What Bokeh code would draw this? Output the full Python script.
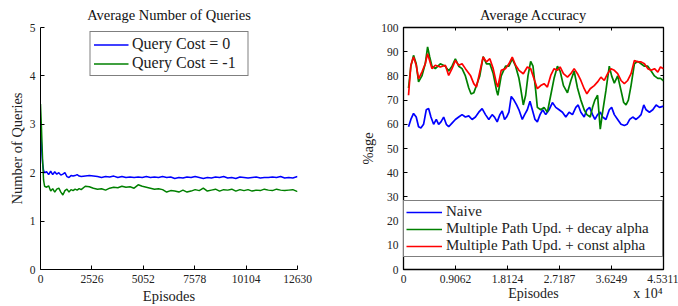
from bokeh.plotting import figure
from bokeh.layouts import row
from bokeh.models import Range1d, FixedTicker, Legend, LegendItem, LinearAxis
from bokeh.embed import file_html
from bokeh.resources import INLINE

FONT = "Liberation Serif"

# ---------------- Left chart data ----------------
q_ticks = [0, 2526, 5052, 7578, 10104, 12630]
q_yticks = [0, 1, 2, 3, 4, 5]
q_ep = [0, 50, 100, 150, 200, 300, 400, 500, 600, 700, 800, 900, 1000, 1100, 1200, 1300, 1400, 1500,
        1600, 1700, 1800, 1900, 2000, 2200, 2400, 2600, 2800, 3000, 3200, 3400, 3600, 3800, 4000,
        4200, 4400, 4600, 4800, 5000, 5200, 5400, 5600, 5800, 6000, 6200, 6400, 6600, 6800, 7000,
        7200, 7400, 7600, 7800, 8000, 8200, 8400, 8600, 8800, 9000, 9200, 9400, 9600, 9800, 10000,
        10200, 10400, 10600, 10800, 11000, 11200, 11400, 11600, 11800, 12000, 12200, 12400, 12630]
q_cost0 = [2.95, 2.55, 2.2, 2.05, 2.0, 2.02, 1.96, 2.03, 1.96, 2.02, 1.97, 2.0, 1.95, 1.97, 2.0, 1.92,
           1.9, 1.94, 1.93, 1.94, 1.96, 1.93, 1.92, 1.93, 1.94, 1.93, 1.92, 1.9, 1.92, 1.91, 1.93,
           1.9, 1.92, 1.9, 1.91, 1.9, 1.91, 1.9, 1.92, 1.9, 1.91, 1.9, 1.92, 1.9, 1.91, 1.88, 1.9,
           1.89, 1.91, 1.9, 1.92, 1.9, 1.88, 1.9, 1.89, 1.91, 1.9, 1.92, 1.89, 1.9, 1.88, 1.91, 1.9,
           1.89, 1.9, 1.91, 1.89, 1.9, 1.9, 1.91, 1.9, 1.92, 1.89, 1.9, 1.89, 1.92]
q_cost1 = [3.42, 2.9, 2.3, 1.85, 1.72, 1.7, 1.73, 1.62, 1.67, 1.6, 1.66, 1.68, 1.6, 1.54, 1.63, 1.66,
           1.6, 1.65, 1.63, 1.66, 1.64, 1.67, 1.65, 1.72, 1.71, 1.68, 1.66, 1.67, 1.64, 1.68, 1.7,
           1.69, 1.72, 1.7, 1.71, 1.68, 1.75, 1.72, 1.7, 1.68, 1.66, 1.67, 1.65, 1.6, 1.63, 1.62,
           1.6, 1.64, 1.6, 1.62, 1.65, 1.63, 1.68, 1.62, 1.64, 1.66, 1.62, 1.65, 1.64, 1.66, 1.62,
           1.65, 1.63, 1.65, 1.62, 1.64, 1.63, 1.66, 1.64, 1.63, 1.66, 1.64, 1.63, 1.64, 1.65, 1.61]

# ---------------- Right chart data ----------------
acc_ticks = [0, 9062.2, 18124.4, 27186.6, 36248.8, 45311]
acc_tick_labels = ["0", "0.9062", "1.8124", "2.7187", "3.6249", "4.5311"]
acc_yticks = [0, 10, 20, 30, 40, 50, 60, 70, 80, 90, 100]
acc_xlabel = "Episodes"
acc_xlabel_pos = 22655.5
acc_multiplier = "x 10\u2074"
acc_multiplier_pos = 42600

naive_ep = [875, 1283, 1749, 2216, 2624, 3032, 3499, 3965, 4374, 4782,
            5248, 5715, 6123, 6531, 6998, 7464, 7873, 8456, 9039, 9622,
            10205, 10788, 11372, 11955, 12538, 13121, 13704, 14287, 14871, 15454,
            15862, 16328, 16795, 17203, 17611, 17961, 18370, 18778, 19244, 19711,
            20119, 20702, 21110, 21577, 22043, 22452, 22918, 23326, 23793, 24259,
            24784, 25367, 25951, 26534, 27117, 27700, 28283, 28866, 29450, 30033,
            30441, 30907, 31491, 31957, 32424, 32948, 33357, 33823, 34290, 34698,
            35281, 35864, 36273, 36739, 37322, 37905, 38489, 38955, 39422, 39946,
            40530, 40996, 41404, 41871, 42279, 42862, 43445, 44029, 44612, 45311]
naive_acc = [59, 62, 64.5, 63, 59, 58.5, 60, 66, 66.5, 63,
             60, 62, 60, 61, 63, 60, 59, 60.5, 62, 63,
             64, 63, 63.5, 62, 63, 65, 66.5, 64, 62, 64,
             63, 61, 64, 65.5, 62, 63, 65, 71.5, 70, 68,
             66, 62, 64, 66, 69.5, 66, 62, 61, 64, 66,
             64, 66, 69, 67, 66, 65, 63, 65, 64, 67,
             68, 65, 63, 66, 67, 64, 62, 64, 65, 63,
             62, 66, 67, 64, 62, 60, 59.5, 60, 62, 63,
             62, 63, 64, 68, 66, 65, 66, 68, 67, 67.5]

decay_ep = [875, 1283, 1749, 2216, 2624, 3207, 3791, 4199, 4549, 4957,
            5540, 6415, 7290, 7873, 8456, 9039, 9622, 10205, 10788, 11372,
            11780, 12246, 12713, 13296, 13879, 14462, 15046, 15629, 16212, 16445,
            17028, 17786, 18370, 18953, 19536, 20119, 20411, 20877, 21285, 21694,
            22160, 22568, 23035, 23326, 23910, 24493, 25076, 25659, 26242, 26825,
            27292, 27875, 28575, 29158, 29741, 30324, 30907, 31491, 31957, 32540,
            32948, 33357, 33823, 34290, 34698, 35281, 35864, 36273, 36739, 37322,
            37905, 38372, 38780, 39188, 39655, 40238, 40821, 41404, 41988, 42571,
            43154, 43737, 44320, 44787, 45311]
decay_acc = [75, 84, 88.5, 85, 77.5, 80, 85, 92, 88, 84,
             83, 85, 84, 82, 84, 87, 84, 83, 80, 75,
             72.5, 73, 76, 80, 88, 85, 85, 81, 74, 72,
             80, 84, 84, 87, 84, 79, 75, 68, 72, 80,
             86, 84, 74, 67, 66, 67, 65, 72, 79, 84,
             82, 76, 73, 78, 82, 75, 70, 66, 64, 63,
             67, 70, 72, 58, 65, 74, 84, 80, 77, 80,
             74, 69, 68, 70, 76, 85, 86, 85, 84, 84,
             82, 80, 79, 79, 78]

const_ep = [875, 1283, 1749, 2216, 2624, 3207, 3791, 4199, 4549, 4957,
            5540, 6415, 7290, 7873, 8456, 9039, 9622, 10205, 10788, 11663,
            12246, 12713, 13296, 13879, 14462, 15046, 15629, 16212, 16445, 17028,
            17786, 18370, 18953, 19536, 20119, 20877, 21577, 22160, 22743, 23326,
            23910, 24493, 25076, 25659, 26242, 26825, 27292, 27875, 28575, 29158,
            29741, 30324, 30907, 31491, 31957, 32540, 33240, 33823, 34406, 34990,
            35573, 36156, 36739, 37322, 37905, 38489, 39072, 39655, 40238, 40821,
            41404, 41988, 42571, 43154, 43737, 44320, 44787, 45311]
const_acc = [72, 84.4, 87.8, 84.4, 78.8, 81.6, 85, 89.2, 86.4, 83,
             84.4, 83.7, 84.4, 80.2, 83, 86.4, 84.4, 85, 83, 80.2,
             76.8, 75.4, 81.6, 87.8, 85.8, 87.1, 83, 76.8, 75.4, 82.3,
             83, 85, 87.8, 84.4, 82.3, 80.9, 83.7, 83, 78.8, 74.7,
             76, 76.8, 75.4, 80.2, 83, 82.3, 83.7, 80.9, 79.5, 80.9,
             83, 80.9, 78.1, 74.7, 72.6, 74.7, 76, 77.5, 79.5, 78.1,
             80.9, 83, 82.3, 80.9, 78.1, 76.8, 78.1, 80.9, 86.4, 85.8,
             85.8, 85, 83, 82.3, 83, 81.6, 83.7, 83]

BLUE, GREEN, RED = "#0000ff", "#008000", "#ff0000"
TXT = "#222222"


def style_axis(ax, label_size="11.5px"):
    ax.axis_line_color = "black"
    ax.axis_line_width = 1
    ax.major_tick_in = 4
    ax.major_tick_out = 0
    ax.minor_tick_in = 0
    ax.minor_tick_out = 0
    ax.major_tick_line_color = "black"
    ax.major_label_text_font = FONT
    ax.major_label_text_font_size = label_size
    ax.major_label_text_color = TXT
    ax.axis_label_text_font = FONT
    ax.axis_label_text_font_size = "14.5px"
    ax.axis_label_text_font_style = "normal"
    ax.axis_label_text_color = TXT
    ax.major_label_standoff = 5
    ax.axis_label_standoff = 2


def style_title(p):
    p.title.text_font = FONT
    p.title.text_font_size = "14.5px"
    p.title.text_font_style = "normal"
    p.title.align = "center"
    p.title.text_color = "#111111"
    p.title.standoff = 9


def style_legend(leg, fs, lh):
    leg.label_text_font = FONT
    leg.label_text_font_size = fs
    leg.label_text_color = TXT
    leg.glyph_height = lh
    leg.label_height = lh
    leg.border_line_color = "black"
    leg.background_fill_alpha = 1


# ---------------- Left figure ----------------
p1 = figure(width=340, height=306, output_backend="svg", toolbar_location=None,
            title="Average Number of Queries",
            x_range=Range1d(0, 12630), y_range=Range1d(0, 5),
            min_border_left=40, min_border_right=43, min_border_top=0, min_border_bottom=36)
style_title(p1)
p1.outline_line_color = None
p1.grid.visible = False
p1.xaxis.ticker = FixedTicker(ticks=q_ticks)
p1.yaxis.ticker = FixedTicker(ticks=q_yticks)
p1.xaxis.axis_label = "Episodes"
p1.yaxis.axis_label = "Number of Queries"
style_axis(p1.xaxis[0])
style_axis(p1.yaxis[0])

l0 = p1.line(q_ep, q_cost0, line_color=BLUE, line_width=1.5)
l1 = p1.line(q_ep, q_cost1, line_color=GREEN, line_width=1.5)
leg1 = Legend(items=[LegendItem(label="Query Cost = 0", renderers=[l0]),
                     LegendItem(label="Query Cost = -1", renderers=[l1])],
              location="top_center")
style_legend(leg1, "16px", 17)
leg1.margin = 4
leg1.padding = 3
leg1.spacing = 1
leg1.glyph_width = 35
leg1.label_standoff = 4
leg1.label_width = 112
leg1.border_line_width = 1.8
p1.add_layout(leg1)

# ---------------- Right figure ----------------
p2 = figure(width=338, height=306, output_backend="svg", toolbar_location=None,
            title="Average Accuracy",
            x_range=Range1d(0, 45311), y_range=Range1d(0, 100),
            min_border_left=63, min_border_right=15, min_border_top=0, min_border_bottom=36)
style_title(p2)
p2.outline_line_color = "black"
p2.outline_line_width = 1.3
p2.grid.visible = False
p2.xaxis.ticker = FixedTicker(ticks=acc_ticks)
p2.xaxis.major_label_overrides = {t: s for t, s in zip(acc_ticks, acc_tick_labels)}
p2.yaxis.ticker = FixedTicker(ticks=acc_yticks)
p2.yaxis.axis_label = "%age"
style_axis(p2.xaxis[0])
style_axis(p2.yaxis[0])

# second row below the tick labels: axis title and the exponent note
ax_note = LinearAxis(ticker=FixedTicker(ticks=[acc_xlabel_pos, acc_multiplier_pos]),
                     major_label_overrides={acc_xlabel_pos: acc_xlabel,
                                            acc_multiplier_pos: acc_multiplier})
style_axis(ax_note, label_size="14px")
ax_note.axis_line_color = None
ax_note.major_tick_line_color = None
ax_note.major_label_standoff = 0
p2.add_layout(ax_note, "below")

# ticks only (no labels) on the top and right of the box
for side in ("right", "above"):
    tk = acc_yticks if side == "right" else acc_ticks
    ax = LinearAxis(ticker=FixedTicker(ticks=tk))
    style_axis(ax, label_size="1px")
    ax.major_label_text_color = None
    ax.major_label_standoff = 0
    ax.axis_line_color = None
    ax.major_tick_in = 3
    p2.add_layout(ax, side)

r0 = p2.line(naive_ep, naive_acc, line_color=BLUE, line_width=1.7)
r1 = p2.line(decay_ep, decay_acc, line_color=GREEN, line_width=1.7)
r2 = p2.line(const_ep, const_acc, line_color=RED, line_width=1.7)

leg2 = Legend(items=[LegendItem(label="Naive", renderers=[r0]),
                     LegendItem(label="Multiple Path Upd. + decay alpha", renderers=[r1]),
                     LegendItem(label="Multiple Path Upd. + const alpha", renderers=[r2])],
              location=(0, 12))
style_legend(leg2, "15px", 16)
leg2.margin = 0
leg2.padding = 2
leg2.spacing = 0
leg2.glyph_width = 36
leg2.label_standoff = 4
leg2.label_width = 214
leg2.border_line_width = 1.2
p2.add_layout(leg2)

layout = row(p1, p2)
open("out.html", "w").write(file_html(layout, INLINE))
